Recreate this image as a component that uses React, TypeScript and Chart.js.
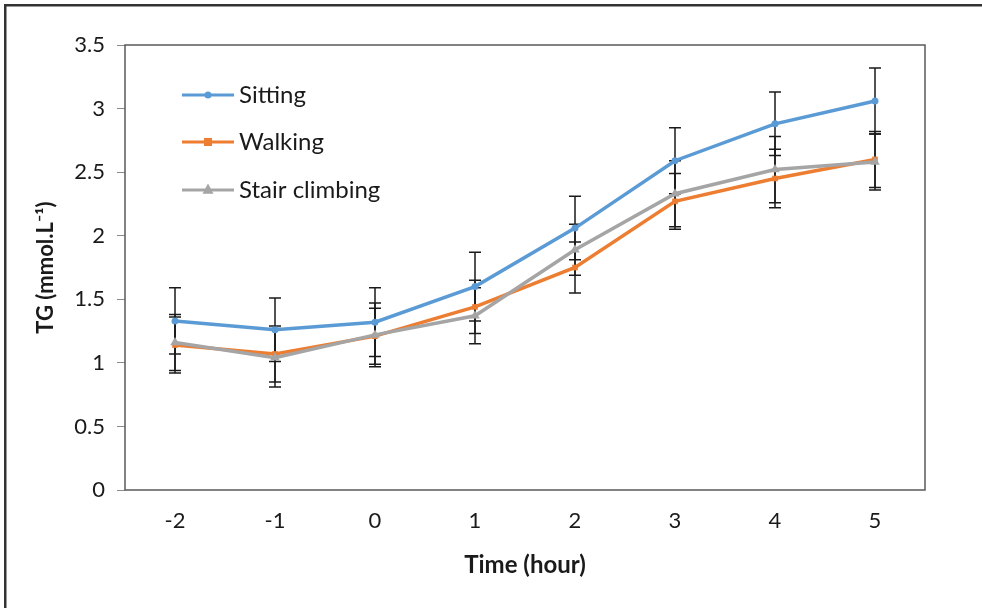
import React, { useEffect, useRef } from "react";
import { Chart, registerables } from "chart.js";

Chart.register(...registerables);

const categories = ["-2", "-1", "0", "1", "2", "3", "4", "5"];
const seriesNames = ["Sitting", "Walking", "Stair climbing"];
const sittingValues = [1.33, 1.26, 1.32, 1.6, 2.06, 2.59, 2.88, 3.06];
const sittingErr = [0.26, 0.25, 0.27, 0.27, 0.25, 0.26, 0.25, 0.26];
const walkingValues = [1.14, 1.07, 1.21, 1.44, 1.75, 2.27, 2.45, 2.6];
const walkingErr = [0.22, 0.22, 0.22, 0.21, 0.2, 0.22, 0.23, 0.22];
const stairValues = [1.16, 1.04, 1.22, 1.37, 1.89, 2.33, 2.52, 2.58];
const stairErr = [0.22, 0.23, 0.25, 0.22, 0.2, 0.26, 0.26, 0.22];
const yMin = 0;
const yMax = 3.5;
const yStep = 0.5;

const FONT = "Lato, 'Open Sans', sans-serif";

const errorBarPlugin = {
  id: "errorBars",
  beforeDatasetsDraw(chart: any) {
    const { ctx } = chart;
    const x = chart.scales.x;
    const y = chart.scales.y;
    ctx.save();
    ctx.strokeStyle = "#1a1a1a";
    ctx.lineWidth = 1.5;
    chart.data.datasets.forEach((ds: any) => {
      const errs: number[] = ds.errors || [];
      ds.data.forEach((v: number, i: number) => {
        const e = errs[i];
        if (e == null) return;
        const px = x.getPixelForValue(i);
        const top = y.getPixelForValue(v + e);
        const bot = y.getPixelForValue(v - e);
        ctx.beginPath();
        ctx.moveTo(px, top);
        ctx.lineTo(px, bot);
        ctx.moveTo(px - 6, top);
        ctx.lineTo(px + 6, top);
        ctx.moveTo(px - 6, bot);
        ctx.lineTo(px + 6, bot);
        ctx.stroke();
      });
    });
    ctx.restore();
  },
};

const framePlugin = {
  id: "frameAndLegend",
  beforeDraw(chart: any) {
    const { ctx, width, height } = chart;
    ctx.save();
    ctx.fillStyle = "#ffffff";
    ctx.fillRect(0, 0, width, height);
    ctx.fillStyle = "#333333";
    ctx.fillRect(4, 4, width, 2.5);
    ctx.fillRect(4, 4, 2.5, height);
    ctx.restore();
  },
  afterDraw(chart: any) {
    const { ctx, chartArea } = chart;
    ctx.save();
    ctx.strokeStyle = "#595959";
    ctx.lineWidth = 1.5;
    ctx.strokeRect(chartArea.left, chartArea.top, chartArea.right - chartArea.left, chartArea.bottom - chartArea.top);
    // legend inside plot area
    const x0 = chartArea.left + 57;
    const lineLen = 52;
    const rowY = [chartArea.top + 50, chartArea.top + 97, chartArea.top + 145];
    chart.data.datasets.forEach((ds: any, i: number) => {
      const yy = rowY[i];
      ctx.strokeStyle = ds.borderColor;
      ctx.lineWidth = 3;
      ctx.beginPath();
      ctx.moveTo(x0, yy);
      ctx.lineTo(x0 + lineLen, yy);
      ctx.stroke();
      const cx = x0 + lineLen / 2;
      ctx.fillStyle = ds.pointBackgroundColor;
      const r = ds.pointRadius;
      ctx.beginPath();
      if (ds.pointStyle === "rect") {
        ctx.rect(cx - r, yy - r, 2 * r, 2 * r);
      } else if (ds.pointStyle === "triangle") {
        ctx.moveTo(cx, yy - r * 1.2);
        ctx.lineTo(cx + r, yy + r * 0.7);
        ctx.lineTo(cx - r, yy + r * 0.7);
        ctx.closePath();
      } else {
        ctx.arc(cx, yy, r, 0, Math.PI * 2);
      }
      ctx.fill();
      ctx.fillStyle = "#1a1a1a";
      ctx.font = `24px ${FONT}`;
      ctx.textBaseline = "middle";
      ctx.textAlign = "left";
      ctx.fillText(ds.label, x0 + lineLen + 5, yy);
    });
    ctx.restore();
  },
};

export default function App() {
  const ref = useRef<HTMLCanvasElement | null>(null);
  useEffect(() => {
    document.body.style.margin = "0";
    const canvas = ref.current;
    if (!canvas) return;
    const mk = (label: string, data: number[], errors: number[], color: string, style: string, r: number, order: number) => ({
      label,
      data,
      errors,
      borderColor: color,
      backgroundColor: color,
      pointBackgroundColor: color,
      pointBorderColor: color,
      pointStyle: style,
      pointRadius: r,
      pointBorderWidth: 0,
      borderWidth: 3.5,
      tension: 0,
      order,
    });
    const chart = new Chart(canvas, {
      type: "line",
      data: {
        labels: categories,
        datasets: [
          mk(seriesNames[0], sittingValues, sittingErr, "#5B9BD5", "circle", 3.5, 3),
          mk(seriesNames[1], walkingValues, walkingErr, "#ED7D31", "rect", 4, 2),
          mk(seriesNames[2], stairValues, stairErr, "#A5A5A5", "triangle", 5.5, 1),
        ] as any,
      },
      options: {
        animation: false,
        responsive: true,
        maintainAspectRatio: false,
        layout: { padding: { left: 0, top: 45, right: 57, bottom: 0 } },
        plugins: {
          legend: { display: false },
          tooltip: { enabled: false },
        },
        scales: {
          x: {
            type: "category",
            offset: true,
            grid: { display: false, drawTicks: false },
            border: { display: false },
            ticks: { color: "#1a1a1a", font: { family: FONT, size: 22 }, padding: 18 },
            title: {
              display: true,
              text: "Time (hour)",
              color: "#1a1a1a",
              font: { family: FONT, size: 24, weight: "bold" },
              padding: { top: 0, bottom: 28 },
            },
            afterFit: (s: any) => {
              s.height = 118;
            },
          },
          y: {
            min: yMin,
            max: yMax,
            ticks: {
              stepSize: yStep,
              color: "#1a1a1a",
              font: { family: FONT, size: 22 },
              padding: 12,
              callback: (v: any) => String(Number(v)),
            },
            grid: { drawOnChartArea: false, drawTicks: true, tickLength: 8, color: "#8c8c8c" },
            border: { display: false },
            title: {
              display: true,
              text: "TG (mmol.L⁻¹)",
              color: "#1a1a1a",
              font: { family: FONT, size: 22, weight: "bold" },
              padding: { top: 33, bottom: 0 },
            },
            afterFit: (s: any) => {
              s.width = 125;
            },
          },
        },
      },
      plugins: [errorBarPlugin, framePlugin],
    });
    return () => chart.destroy();
  }, []);
  return (
    <div style={{ position: "fixed", left: 0, top: 0, width: 982, height: 608 }}>
      <canvas ref={ref} />
    </div>
  );
}
